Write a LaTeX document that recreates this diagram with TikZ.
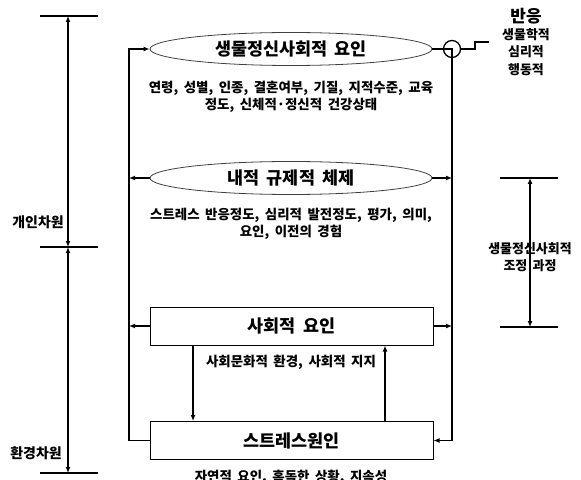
\documentclass[tikz,border=0pt]{standalone}
\usepackage{fontspec}
\setmainfont{Noto Sans CJK KR}[WordSpace=1.8]
\usetikzlibrary{shapes.geometric,arrows.meta}
\begin{document}
\begin{tikzpicture}[x=1bp,y=-1bp, line width=1.4bp,
  >={Latex[length=6bp,width=5bp]},
  ell/.style={ellipse, draw=black!75, line width=0.8bp, minimum width=282bp, minimum height=33bp, inner sep=0pt, font=\fontsize{17.5}{20}\selectfont\bfseries},
  box/.style={rectangle, draw, line width=1bp, minimum width=283bp, minimum height=38bp, inner sep=0pt, font=\fontsize{17.5}{20}\selectfont\bfseries},
  desc/.style={align=center, inner sep=0pt, font=\fontsize{13.5}{17}\selectfont\bfseries},
  lab/.style={align=center, inner sep=0pt, font=\fontsize{13.5}{17.5}\selectfont\bfseries},
  tick/.style={line width=1.5bp}]
\useasboundingbox (0,0) rectangle (581,480);

% main nodes
\node[ell] (e1) at (291,49) {생물정신사회적 요인};
\node[desc] (t1) at (291,96.5) {연령, 성별, 인종, 결혼여부, 기질, 지적수준, 교육\\정도, 신체적·정신적 건강상태};
\node[ell] (e2) at (291,178) {내적 규제적 체제};
\node[desc] (t2) at (291,223.5) {스트레스 반응정도, 심리적 발전정도, 평가, 의미,\\요인, 이전의 경험};
\node[box] (b1) at (291.5,326) {사회적 요인};
\node[desc] (t3) at (291,362) {사회문화적 환경, 사회적 지지};
\node[box] (b2) at (291.5,440.5) {스트레스원인};
\node[desc] (t4) at (291,477) {자연적 요인, 혹독한 상황, 지속성};

% circle and response
\node[circle, draw, minimum size=17bp, inner sep=0pt, line width=1.3bp] (c) at (452,49) {};
\coordinate (s1) at (475,49);
\coordinate (s2) at (475,42);
\coordinate (s3) at (489,42);
\draw (c.east) -- (s1) -- (s2) -- (s3);
\node[font=\fontsize{17}{20}\selectfont\bfseries, inner sep=0pt] (r0) at (526,16) {반응};
\node[lab, font=\fontsize{13}{17.5}\selectfont\bfseries] (r1) at (526,52) {생물학적\\심리적\\행동적};

% left loop
\coordinate (L1) at (129,49);
\coordinate (L4) at (129,440.5);
\draw[->] (b2.west) -- (L4) -- (L1) -- (e1.west);
\draw[->] (e2.west) -- (e2.west -| L1);
\draw[->] (b1.west) -- (b1.west -| L1);

% right loop
\draw[->] (e1.east) -- (c.center) -- (c |- b2) -- (b2.east);
\draw[->] (e2.east) -- (e2.east -| c);
\draw[->] (b1.east) -- (b1.east -| c);

% between boxes
\draw[->] ([xshift=-98.5bp]b1.south) -- ([xshift=-98.5bp]b2.north);
\draw[->] ([xshift=93.5bp]b2.north) -- ([xshift=93.5bp]b1.south);

% left dimension
\coordinate (DT) at (68,16);
\coordinate (DM) at (68,247);
\coordinate (DB) at (68,473);
\draw[tick] (40,16) -- (98,16);
\draw[tick] (40,247) -- (98,247);
\draw[tick] (40,473) -- (98,473);
\draw[<->] (DT) -- (DM);
\draw[<->] (DM) -- (DB);
\node[lab, font=\fontsize{14}{17}\selectfont\bfseries] (d1) at (38,222) {개인차원};
\node[lab, font=\fontsize{14}{17}\selectfont\bfseries] (d2) at (36,453) {환경차원};

% right dimension
\coordinate (RT) at (530,178);
\coordinate (RB) at (530,327);
\draw[tick] (500,178) -- (558,178);
\draw[tick] (500,327) -- (558,327);
\draw[<->] (RT) -- (RB);
\node[lab, font=\fontsize{13}{17.5}\selectfont\bfseries] (d3) at (530,257) {생물정신사회적\\조정 과정};
\end{tikzpicture}
\end{document}
